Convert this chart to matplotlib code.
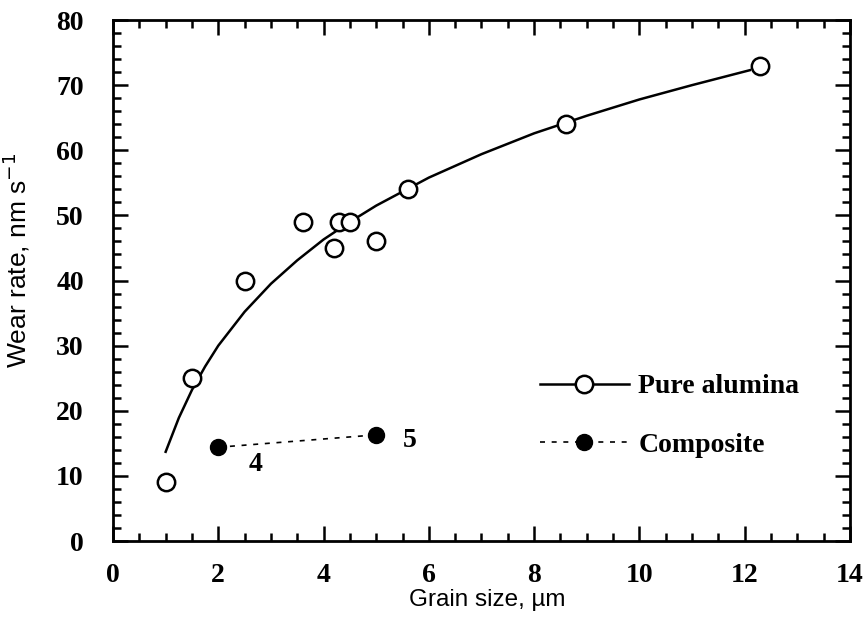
import matplotlib.pyplot as plt
from matplotlib.ticker import MultipleLocator

# measured points, pure alumina
alumina_x = [1.0, 1.5, 2.5, 3.6, 4.2, 4.3, 4.5, 5.0, 5.6, 8.6, 12.3]
alumina_y = [9, 25, 40, 49, 45, 49, 49, 46, 54, 64, 73]

# fitted trend line for pure alumina
fit_x = [1.0, 1.25, 1.5, 1.75, 2.0, 2.5, 3.0, 3.5, 4.0, 4.5, 5.0, 6.0, 7.0, 8.0, 9.0, 10.0, 11.0, 12.1]
fit_y = [13.7, 18.9, 23.2, 26.8, 30.0, 35.2, 39.5, 43.1, 46.3, 49.0, 51.5, 55.8, 59.4, 62.6, 65.3, 67.8, 70.0, 72.3]

# composite
comp_x = [2.0, 5.0]
comp_y = [14.4, 16.3]
comp_labels = ["4", "5"]

serif = "Liberation Serif"
sans = "Liberation Sans"

fig = plt.figure(figsize=(8.66, 6.31), dpi=100)
ax = fig.add_axes([0.1305, 0.1426, 0.851, 0.8257])

ax.plot(fit_x, fit_y, color="black", linewidth=1.8)
ax.plot(alumina_x, alumina_y, "o", color="black", markerfacecolor="white",
        markersize=12.5, markeredgewidth=1.8, linestyle="none")
ax.plot(comp_x, comp_y, color="black", linewidth=1.2, linestyle=(0, (3, 4)))
ax.plot(comp_x, comp_y, "o", color="black", markersize=11.5, linestyle="none")

ax.text(2.7, 11.7, comp_labels[0], fontsize=20, fontfamily=serif, fontweight="bold",
        ha="center", va="center")
ax.text(5.64, 15.5, comp_labels[1], fontsize=20, fontfamily=serif, fontweight="bold",
        ha="center", va="center")

# legend
h1, = ax.plot([], [], color="black", linewidth=1.8, marker="o", markerfacecolor="white",
              markersize=12.5, markeredgewidth=1.8)
h2, = ax.plot([], [], color="black", linewidth=1.2, linestyle=(0, (3, 4)), marker="o",
              markersize=11.5)
leg = ax.legend([h1, h2], ["Pure alumina", "Composite"], loc="center left",
                bbox_to_anchor=(0.579, 0.24), frameon=False, handlelength=3.2,
                labelspacing=1.2, handletextpad=0.35, borderpad=0, borderaxespad=0,
                prop={"family": serif, "size": 20, "weight": "bold"})

ax.set_xlim(0, 14)
ax.set_ylim(0, 80)
ax.xaxis.set_major_locator(MultipleLocator(2))
ax.xaxis.set_minor_locator(MultipleLocator(0.5))
ax.yaxis.set_major_locator(MultipleLocator(10))
ax.yaxis.set_minor_locator(MultipleLocator(2))
ax.tick_params(which="both", direction="in", top=True, right=True, width=1.8)
ax.tick_params(which="major", length=11)
ax.tick_params(axis="y", which="major", pad=21)
ax.tick_params(axis="x", which="major", pad=16)
ax.tick_params(which="minor", length=6)
for lab in ax.get_xticklabels() + ax.get_yticklabels():
    lab.set_fontfamily(serif)
    lab.set_fontweight("bold")
    lab.set_fontsize(20)
for sp in ax.spines.values():
    sp.set_linewidth(2)

ax.set_xlabel("Grain size, µm", fontfamily=sans, fontsize=17.5)
ax.xaxis.set_label_coords(0.508, -0.093)
ax.set_ylabel("Wear rate, nm s$^{-1}$", fontfamily=sans, fontsize=19)
ax.yaxis.set_label_coords(-0.11, 0.539)

fig.savefig("out.png", dpi=100)
